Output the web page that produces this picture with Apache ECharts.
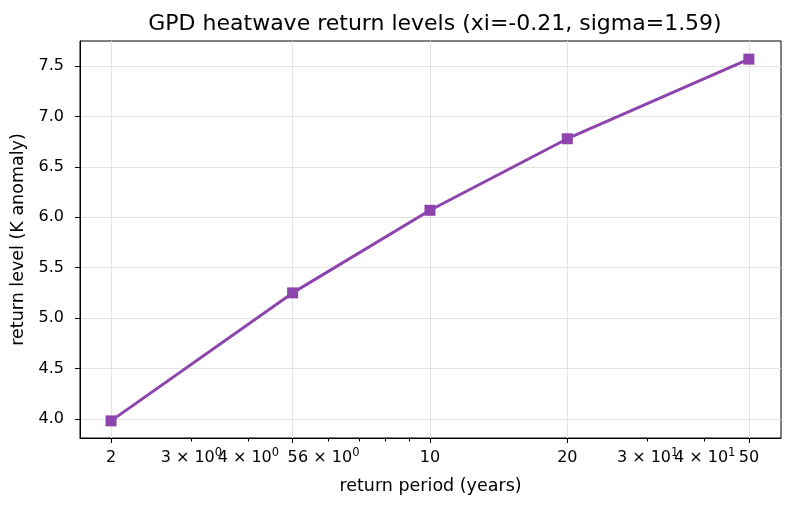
<!DOCTYPE html>
<html>
<head>
<meta charset="utf-8">
<script src="https://cdn.jsdelivr.net/npm/echarts@6/dist/echarts.min.js"></script>
<style>html,body{margin:0;padding:0;background:#fff}#c{width:793px;height:507px}</style>
</head>
<body>
<div id="c"></div>
<script>
const titleText = 'GPD heatwave return levels (xi=-0.21, sigma=1.59)';
const periods = [2, 5, 10, 20, 50];
const levels = [3.98, 5.25, 6.07, 6.78, 7.57];
const majorTicks = [2, 5, 10, 20, 50];
const minorTicks = [3, 4, 6, 7, 8, 9, 30, 40];
const minorLabelsA = [3, 6, 40];
const minorLabelsB = [4, 30];
const yTicks = [4.0, 4.5, 5.0, 5.5, 6.0, 6.5, 7.0, 7.5];

const FONT = 'DejaVu Sans';
const TICK_FS = 16;
const chart = echarts.init(document.getElementById('c'), null, {renderer: 'canvas'});

function minorFmt(v) {
  const e = Math.floor(Math.log10(v) + 1e-9);
  const m = Math.round(v / Math.pow(10, e));
  return '{a|' + m + ' \u00d7 10}{b|' + e + '}';
}

const XMIN = 1.71, XMAX = 58.8;

function minorAxis(ticks, labels) {
  return {
    type: 'log', min: XMIN, max: XMAX, position: 'bottom', offset: 0,
    axisLine: {show: false},
    axisTick: {show: ticks.length > 0, inside: false, length: 3.5, customValues: ticks.length ? ticks : [XMIN], lineStyle: {color: '#000'}},
    axisLabel: {show: true, margin: 9, interval: 0, hideOverlap: false, showMinLabel: true, showMaxLabel: true, customValues: labels, formatter: minorFmt,
      rich: {
        a: {fontFamily: FONT, fontSize: TICK_FS, color: '#000'},
        b: {fontFamily: FONT, fontSize: 11.5, color: '#000', verticalAlign: 'top', padding: [0, 0, 10, 0]}
      }},
    splitLine: {show: false}
  };
}

chart.setOption({
  animation: false,
  backgroundColor: '#ffffff',
  title: {
    text: titleText, left: 430, top: 8, textAlign: 'center',
    textStyle: {fontFamily: FONT, fontSize: 22, fontWeight: 'normal', color: '#000'}
  },
  grid: {left: 80, right: 12, top: 41, bottom: 69, show: true, borderColor: '#000', borderWidth: 1, backgroundColor: 'transparent'},
  xAxis: [{
    type: 'log', min: XMIN, max: XMAX, position: 'bottom',
    name: 'return period (years)', nameLocation: 'middle', nameGap: 39,
    nameTextStyle: {fontFamily: FONT, fontSize: 17.5, color: '#000'},
    axisLine: {show: true, onZero: false, lineStyle: {color: '#000', width: 1}},
    axisTick: {show: true, inside: false, length: 5, customValues: majorTicks, lineStyle: {color: '#000'}},
    axisLabel: {show: true, margin: 12, interval: 0, hideOverlap: false, showMinLabel: true, showMaxLabel: true, customValues: majorTicks, fontFamily: FONT, fontSize: TICK_FS, color: '#000', formatter: v => String(v)},
    splitLine: {show: true, lineStyle: {color: '#e3e3e3', width: 1}},
    minorTick: {show: false}, minorSplitLine: {show: false}
  }, minorAxis(minorTicks, minorLabelsA), Object.assign(minorAxis([], minorLabelsB), {axisTick: {show: false}})],
  yAxis: {
    type: 'value', min: 3.81, max: 7.75,
    name: 'return level (K anomaly)', nameLocation: 'middle', nameGap: 46,
    nameTextStyle: {fontFamily: FONT, fontSize: 17.5, color: '#000'},
    axisLine: {show: true, lineStyle: {color: '#000', width: 1}},
    axisTick: {show: true, inside: false, length: 5, customValues: yTicks, lineStyle: {color: '#000'}},
    axisLabel: {show: true, margin: 16, interval: 0, showMinLabel: true, showMaxLabel: true, customValues: yTicks, fontFamily: FONT, fontSize: TICK_FS, color: '#000', formatter: v => v.toFixed(1)},
    splitLine: {show: true, lineStyle: {color: '#e3e3e3', width: 1}}
  },
  series: [{
    type: 'line', xAxisIndex: 0,
    data: periods.map((p, i) => [p, levels[i]]),
    symbol: 'rect', symbolSize: 11, showSymbol: true,
    lineStyle: {color: '#8e44ad', width: 3},
    itemStyle: {color: '#8e44ad', borderWidth: 0},
    z: 5
  }]
});
</script>
</body>
</html>
